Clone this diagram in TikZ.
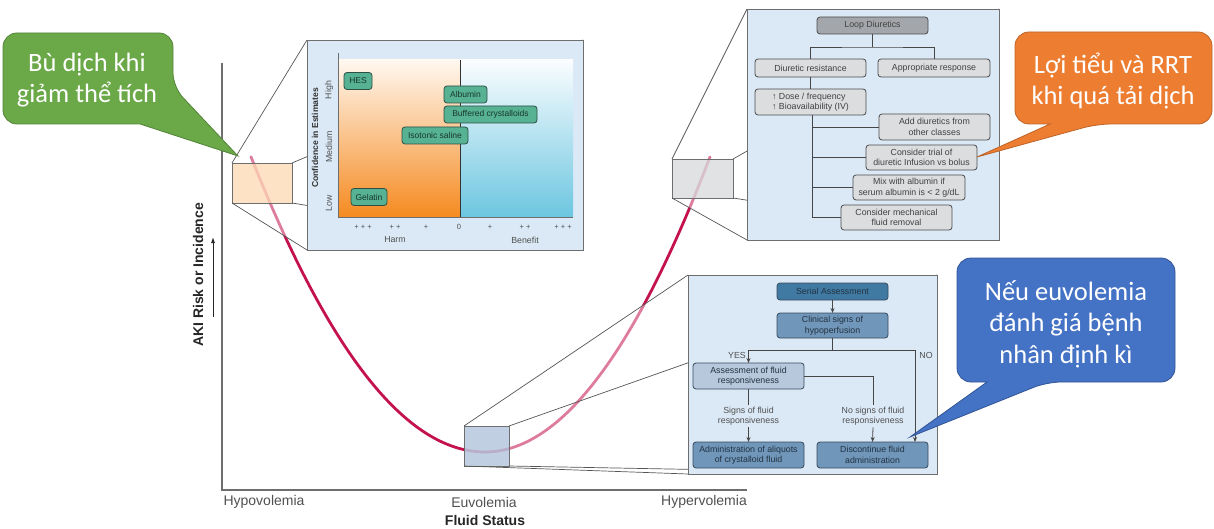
\documentclass[tikz,border=0pt]{standalone}
\usepackage{fontspec}
\setmainfont{Liberation Sans}
\newfontfamily\calloutfont{Carlito}
\usetikzlibrary{arrows.meta,calc}
\newcommand\myfs[2]{\fontsize{#1}{#2}\selectfont}
\definecolor{panelfill}{RGB}{219,233,246}
\definecolor{panelborder}{RGB}{110,110,110}
\definecolor{frusline}{RGB}{85,85,85}
\definecolor{curvecol}{RGB}{196,18,78}
\definecolor{lboxfill}{RGB}{253,216,180}
\definecolor{rboxfill}{RGB}{214,216,218}
\definecolor{bboxfill}{RGB}{172,192,216}
\definecolor{harmtop}{RGB}{255,248,240}
\definecolor{harmbot}{RGB}{245,138,32}
\definecolor{bentop}{RGB}{250,253,255}
\definecolor{benbot}{RGB}{108,198,224}
\definecolor{chipfill}{RGB}{86,178,146}
\definecolor{chipborder}{RGB}{45,80,70}
\definecolor{chiptext}{RGB}{25,55,45}
\definecolor{ldgray}{RGB}{163,166,170}
\definecolor{boxgray}{RGB}{219,221,223}
\definecolor{boxborder}{RGB}{75,75,75}
\definecolor{boxtext}{RGB}{65,65,65}
\definecolor{sablue}{RGB}{64,122,162}
\definecolor{midblue}{RGB}{112,150,186}
\definecolor{liteblue}{RGB}{184,200,220}
\definecolor{bborder}{RGB}{55,75,95}
\definecolor{btext}{RGB}{35,50,65}
\definecolor{lbltext}{RGB}{80,80,80}
\definecolor{linecol}{RGB}{70,70,70}
\definecolor{axiscol}{RGB}{110,110,110}
\definecolor{greenfill}{RGB}{106,168,72}
\definecolor{greenline}{RGB}{84,132,56}
\definecolor{orangefill}{RGB}{237,125,49}
\definecolor{orangeline}{RGB}{190,100,40}
\definecolor{bluefill}{RGB}{68,114,196}
\definecolor{blueline}{RGB}{50,85,150}
\pgfdeclarelayer{lzero}
\pgfdeclarelayer{lone}
\pgfdeclarelayer{ltwo}
\pgfsetlayers{lzero,lone,ltwo,main}
\begin{document}
\begin{tikzpicture}[x=1pt,y=-1pt,
  every node/.style={inner sep=0pt, outer sep=0pt},
  panel/.style={draw=panelborder, fill=panelfill, line width=0.9pt},
  zbox/.style={draw=panelborder, line width=0.8pt, fill opacity=0.75, draw opacity=1},
  frus/.style={draw=frusline, line width=0.7pt},
  hull/.style={fill=white, fill opacity=0.45},
  chip/.style={draw=chipborder, fill=chipfill, rounded corners=3pt, line width=0.8pt, text=chiptext, font=\myfs{8.5}{9}, minimum height=17pt},
  gbox/.style={draw=boxborder, fill=boxgray, rounded corners=3pt, line width=0.8pt, text=boxtext, font=\myfs{8.8}{10.5}, align=center, minimum width=111pt},
  bxs/.style={draw=bborder, rounded corners=3pt, line width=0.8pt, text=btext, font=\myfs{8.8}{10.5}, align=center, minimum width=111pt, minimum height=26pt},
  lbl/.style={font=\myfs{8.8}{10.5}, text=lbltext, align=center},
  tick/.style={font=\myfs{7.5}{9}, text=lbltext},
  conn/.style={draw=linecol, line width=0.8pt},
  arr/.style={draw=linecol, line width=0.8pt, -{Stealth[length=5pt,width=4pt]}},
  callout/.style={line width=0.8pt},
  ctext/.style={text=white, font=\calloutfont\myfs{26.5}{31.5}, align=center},
  axlbl/.style={font=\myfs{14}{16}, text=lbltext}
]
\useasboundingbox (0,0) rectangle (1214,529);

% ---------- panels (main layer) ----------
\node[panel, minimum width=276pt, minimum height=210pt] (lp) at (445,145) {};
\node[panel, minimum width=252pt, minimum height=231pt] (rp) at (873,124.5) {};
\node[panel, minimum width=249pt, minimum height=199pt] (bp) at (812.5,374.5) {};

% ---------- zoom boxes ----------
\begin{pgfonlayer}{ltwo}
\node[zbox, fill=lboxfill, minimum width=60pt, minimum height=40pt] (lbox) at (262,183) {};
\node[zbox, fill=rboxfill, minimum width=61pt, minimum height=39pt] (rbox) at (702.5,178.5) {};
\node[zbox, fill=bboxfill, minimum width=45pt, minimum height=40pt] (bbox) at (486.5,446) {};
\draw[frus] (lbox.north west) -- (lp.north west);
\draw[frus] (lbox.north east) -- (lp.north east);
\draw[frus] (lbox.south west) -- (lp.south west);
\draw[frus] (lbox.south east) -- (lp.south east);
\draw[frus] (rbox.north west) -- (rp.north west);
\draw[frus] (rbox.north east) -- (rp.north east);
\draw[frus] (rbox.south west) -- (rp.south west);
\draw[frus] (rbox.south east) -- (rp.south east);
\draw[frus] (bbox.north west) -- (bp.north west);
\draw[frus] (bbox.north east) -- (bp.north east);
\draw[frus] (bbox.south west) -- (bp.south west);
\draw[frus] (bbox.south east) -- (bp.south east);
\end{pgfonlayer}

% ---------- curve ----------
\begin{pgfonlayer}{lzero}
\draw[curvecol, line width=2.8pt, line cap=round]
  plot[domain=251:485, samples=80, smooth] (\x,{452-(0.07342*(\x-485))*(0.07342*(\x-485))})
  -- plot[domain=485:710, samples=80, smooth] (\x,{452-(0.07635*(\x-485))*(0.07635*(\x-485))});
\end{pgfonlayer}
\begin{pgfonlayer}{lone}
\fill[hull] (lbox.north west) -- (lp.north west) -- (lp.south west) -- (lbox.south west) -- cycle;
\fill[hull] (rbox.north west) -- (rp.north west) -- (rp.south west) -- (rbox.south west) -- cycle;
\fill[hull] (bbox.north west) -- (bp.north west) -- (bp.north east) -- (bp.south east) -- (bp.south west) -- (bbox.south west) -- cycle;
\end{pgfonlayer}

% ---------- axes ----------
\coordinate (ytop) at (222,63);
\coordinate (orig) at (222,490);
\coordinate (xend) at (747,490);
\draw[axiscol, line width=1.2pt] (ytop) -- (orig) -- (xend);
\coordinate (arb) at (213,317);
\coordinate (art) at (213,237);
\draw[black!85, line width=0.9pt, -{Latex[length=6pt,width=4pt]}] (arb) -- (art);
\node[rotate=90, font=\bfseries\myfs{14}{16}, text=black!85] (ylab) at (198,275) {AKI Risk or Incidence};
\node[axlbl] (hypo) at (264,502) {Hypovolemia};
\node[axlbl] (euvo) at (484,502) {Euvolemia};
\node[axlbl] (hyper) at (704,502) {Hypervolemia};
\node[font=\bfseries\myfs{14}{16}, text=black!85] (fstat) at (485,520) {Fluid Status};

% ---------- left panel chart ----------
\fill[top color=harmtop, bottom color=harmbot] (338,60) rectangle (460,217);
\fill[top color=bentop, bottom color=benbot] (460,60) rectangle (573,217);
\coordinate (cat) at (338,53);
\coordinate (co) at (338,217);
\coordinate (cr) at (573,217);
\draw[axiscol, line width=0.9pt] (cat) -- (co) -- (cr);
\coordinate (dvt) at (460,60);
\coordinate (dvb) at (460,217);
\draw[black!80, line width=0.9pt] (dvt) -- (dvb);
\node[tick] (t1) at (363,227) {+ + +};
\node[tick] (t2) at (395,227) {+ +};
\node[tick] (t3) at (426,227) {+};
\node[tick] (t4) at (459,227) {0};
\node[tick] (t5) at (490,227) {+};
\node[tick] (t6) at (525,227) {+ +};
\node[tick] (t7) at (563,227) {+ + +};
\node[lbl] (harm) at (395,240) {Harm};
\node[lbl] (benefit) at (525,240) {Benefit};
\node[lbl, rotate=90] (high) at (329,90) {High};
\node[lbl, rotate=90] (medium) at (329,147) {Medium};
\node[lbl, rotate=90] (low) at (329,203) {Low};
\node[rotate=90, font=\bfseries\myfs{8.6}{10}, text=black!80] (conf) at (315,138) {Confidence in Estimates};
\node[chip, minimum width=28pt] (hes) at (358,81) {HES};
\node[chip, minimum width=43pt] (alb) at (465.5,94.5) {Albumin};
\node[chip, minimum width=93pt] (buf) at (490.5,114.5) {Buffered crystalloids};
\node[chip, minimum width=66pt] (iso) at (435,135.5) {Isotonic saline};
\node[chip, minimum width=36pt] (gel) at (369,197) {Gelatin};

% ---------- right panel flowchart ----------
\node[gbox, fill=ldgray, minimum height=17pt] (ld) at (872.5,25.5) {Loop Diuretics};
\node[gbox, minimum height=18pt] (dr) at (810.5,68) {Diuretic resistance};
\node[gbox, minimum height=18pt, minimum width=112pt] (ar) at (934,68) {Appropriate response};
\node[gbox, minimum height=26pt, align=left] (dose) at (810.5,102) {↑ Dose / frequency\\↑ Bioavailability (IV)};
\node[gbox, minimum height=26pt] (add) at (934.5,127) {Add diuretics from\\other classes};
\node[gbox, minimum height=25pt] (trial) at (921.5,157.5) {Consider trial of\\diuretic Infusion vs bolus};
\node[gbox, minimum height=25pt, minimum width=112pt] (mix) at (909,187.5) {Mix with albumin if\\serum albumin is {\textless} 2 g/dL};
\node[gbox, minimum height=25pt] (mech) at (896.5,217.5) {Consider mechanical\\fluid removal};
\coordinate (j1) at ($(ld.south)+(0,13)$);
\draw[conn] (ld.south) -- (j1);
\draw[conn] (dr.north) |- (j1) -| (ar.north);
\draw[conn] (dr.south) -- (dose.north);
\coordinate (dtrunk) at ($(dose.south)+(1.5,0)$);
\draw[conn] (dtrunk) |- (mech.west);
\draw[conn] (dtrunk |- add.west) -- (add.west);
\draw[conn] (dtrunk |- trial.west) -- (trial.west);
\draw[conn] (dtrunk |- mix.west) -- (mix.west);

% ---------- bottom panel flowchart ----------
\node[bxs, fill=sablue, minimum height=17pt] (sa) at (832.5,291.5) {Serial Assessment};
\node[bxs, fill=midblue, minimum height=25pt] (cs) at (832.5,325.5) {Clinical signs of\\hypoperfusion};
\node[bxs, fill=liteblue] (afr) at (748.5,376) {Assessment of fluid\\responsiveness};
\node[bxs, fill=midblue] (adm) at (748.5,455) {Administration of aliquots\\of crystalloid fluid};
\node[bxs, fill=midblue] (disc) at (872.5,455) {Discontinue fluid\\administration};
\node[lbl, inner sep=2pt] (sig) at (748.5,416) {Signs of fluid\\responsiveness};
\node[lbl, inner sep=2pt] (nosig) at (873,416) {No signs of fluid\\responsiveness};
\node[lbl] (yes) at (737,355) {YES};
\node[lbl] (no) at (926,355) {NO};
\draw[arr] (sa.south) -- (cs.north);
\coordinate (j2) at ($(cs.south)+(0,12)$);
\coordinate (noend) at ($(disc.north)+(42.5,0)$);
\draw[conn] (cs.south) -- (j2);
\draw[arr] (j2) -| (afr.north);
\draw[arr] (j2) -| (noend);
\draw[conn] (afr.south) -- (sig.north);
\draw[arr] (sig.south) -- (adm.north);
\draw[conn] (afr.east) -| (nosig.north);
\draw[arr] (nosig.south) -- (disc.north);

% ---------- callouts ----------
\coordinate (gtip) at (238,156);
\draw[callout, fill=greenfill, draw=greenline]
  (88,33) [rounded corners=14pt] -- (173,33) -- (173,87) [sharp corners] -- (gtip) -- (140,124) -- (140,124) [rounded corners=14pt] -- (3,124) -- (3,33) -- cycle;
\node[ctext] (gtext) at (87,80) {Bù dịch khi\\giảm thể tích};

\coordinate (otip) at (977,157);
\draw[callout, fill=orangefill, draw=orangeline]
  (1113,32) [rounded corners=14pt] -- (1212,32) -- (1212,124) -- (1097,124) [sharp corners] -- (otip) -- (1050,124) -- (1050,124) [rounded corners=14pt] -- (1015,124) -- (1015,32) -- cycle;
\node[ctext] (otext) at (1113,81) {Lợi tiểu và RRT\\khi quá tải dịch};

\coordinate (btip) at (910,437);
\draw[callout, fill=bluefill, draw=blueline]
  (1066,258) [rounded corners=14pt] -- (1175,258) -- (1175,382) -- (1047,382) [sharp corners] -- (btip) -- (987,382) -- (987,382) [rounded corners=14pt] -- (957,382) -- (957,258) -- cycle;
\node[ctext] (btext) at (1066,324) {Nếu euvolemia\\đánh giá bệnh\\nhân định kì};
\end{tikzpicture}
\end{document}
